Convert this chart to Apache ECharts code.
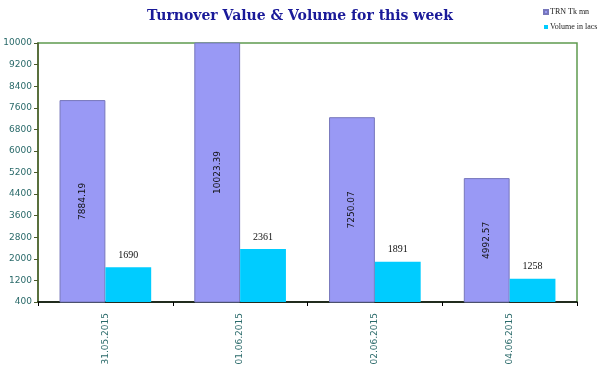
<!DOCTYPE html>
<html><head><meta charset="utf-8">
<script src="https://cdn.jsdelivr.net/npm/echarts@6/dist/echarts.min.js"></script>
<style>html,body{margin:0;padding:0;background:#fff}#c{width:600px;height:380px}</style>
</head><body><div id="c"></div>
<script>
const categories = ['31.05.2015', '01.06.2015', '02.06.2015', '04.06.2015'];
const trnValues = [7884.19, 10023.39, 7250.07, 4992.57];
const volumeValues = [1690, 2361, 1891, 1258];
const yMin = 400, yMax = 10000, yInterval = 800;

const chart = echarts.init(document.getElementById('c'));
chart.setOption({
  backgroundColor: '#ffffff',
  animation: false,
  title: {
    text: 'Turnover Value & Volume for this week',
    left: 'center', top: 4,
    textStyle: { fontFamily: 'DejaVu Serif', fontWeight: 'bold', fontSize: 14, color: '#1a1a99' }
  },
  legend: {
    orient: 'vertical', left: 538, top: 3, itemWidth: 4, itemHeight: 4, itemGap: 7,
    icon: 'rect',
    textStyle: { fontFamily: 'Liberation Serif', fontSize: 8, fontWeight: 'normal', color: '#222', padding: [0,0,0,-3] },
    data: ['TRN Tk mn', 'Volume in lacs']
  },
  grid: { left: 38, right: 23, top: 43, bottom: 78, show: true, borderColor: '#5f9a4f', borderWidth: 1.5 },
  xAxis: {
    type: 'category', data: categories,
    axisLine: { lineStyle: { color: '#000', width: 1.5 } },
    axisTick: { show: true, length: 4, lineStyle: { color: '#000' } },
    axisLabel: { rotate: 90, margin: 11, fontFamily: 'DejaVu Sans', fontSize: 9, color: '#2a6a6a' }
  },
  yAxis: {
    type: 'value', min: yMin, max: yMax, interval: yInterval,
    axisLine: { show: true, lineStyle: { color: '#4a5a2a', width: 1.5 } },
    axisTick: { show: true, length: 4, lineStyle: { color: '#4a5a2a' } },
    splitLine: { show: false },
    axisLabel: { margin: 6, fontFamily: 'DejaVu Sans', fontSize: 9, color: '#2a6a6a', formatter: v => String(v) }
  },
  series: [
    {
      name: 'TRN Tk mn', type: 'bar', data: trnValues, barGap: '0%', barCategoryGap: '32%',
      itemStyle: { color: '#9999f5', borderColor: '#7777bb', borderWidth: 1 },
      label: { show: true, position: 'inside', rotate: 90, fontFamily: 'DejaVu Sans', fontSize: 9, color: '#111' }
    },
    {
      name: 'Volume in lacs', type: 'bar', data: volumeValues,
      itemStyle: { color: '#00ccff' },
      label: { show: true, position: 'top', distance: 7, fontFamily: 'Liberation Serif', fontSize: 10, color: '#111' }
    }
  ]
});
</script></body></html>
